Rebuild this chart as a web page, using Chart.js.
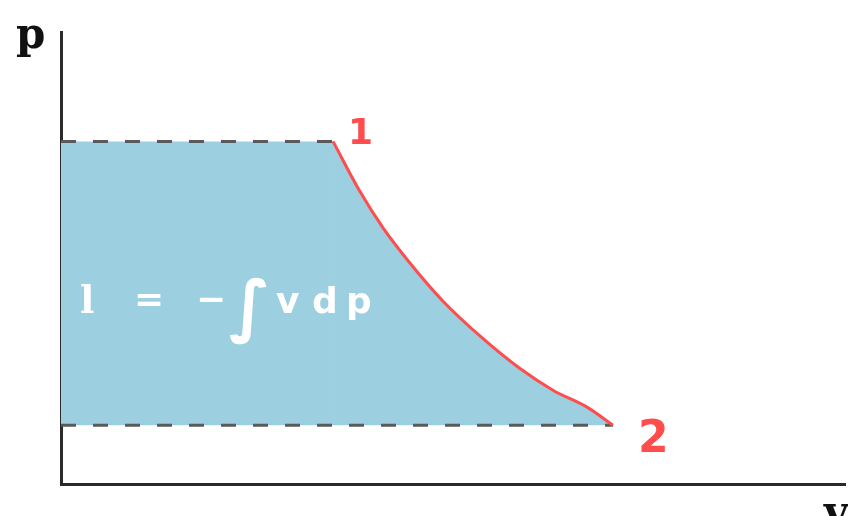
<!DOCTYPE html>
<html>
<head>
<meta charset="utf-8">
<script src="https://cdn.jsdelivr.net/npm/chart.js@4"></script>
<style>
  body { margin: 0; background: #fff; }
  #wrap { width: 848px; height: 516px; }
</style>
</head>
<body>
<div id="wrap"><canvas id="pv" width="848" height="516"></canvas></div>
<script>
// pressures of state 1 and 2
const p1 = 7.58;
const p2 = 1.30;

// expansion curve 1 -> 2 (v, p)
const curveV = [3.47, 3.81, 4.11, 4.45, 4.87, 5.38, 5.85, 6.28, 6.71, 7.04];
const curveP = [7.58, 6.48, 5.66, 4.89, 4.05, 3.22, 2.56, 2.07, 1.70, 1.30];

const curve = curveV.map((v, i) => ({ x: v, y: curveP[i] }));

const dashTop = [{ x: 0, y: p1 }, { x: curveV[0], y: p1 }];
const dashBottom = [{ x: 0, y: p2 }, { x: curveV[curveV.length - 1], y: p2 }];

const areaColor = "#9ccfe0";

/* LABELS */
const labelPlugin = {
  id: "labels",
  afterDatasetsDraw(chart) {
    const ctx = chart.ctx;
    const xs = chart.scales.x, ys = chart.scales.y;
    ctx.save();
    ctx.textBaseline = "alphabetic";
    ctx.textAlign = "left";

    // state points
    ctx.fillStyle = "#ff4d4d";
    ctx.font = "bold 36px 'DejaVu Sans'";
    ctx.fillText("1", xs.getPixelForValue(curveV[0]) + 15, ys.getPixelForValue(p1) + 3);
    ctx.font = "bold 44px 'DejaVu Sans'";
    ctx.fillText("2", xs.getPixelForValue(curveV[curveV.length - 1]) + 25, ys.getPixelForValue(p2) + 27);

    // axis names
    ctx.fillStyle = "#111";
    ctx.font = "bold 42px 'DejaVu Serif'";
    ctx.fillText("p", 16, 48);
    ctx.fillText("v", 824, 526);

    // formula
    ctx.fillStyle = "#ffffff";
    const base = 313;
    ctx.font = "bold 38px 'DejaVu Serif'";
    ctx.fillText("l", 80, base);
    ctx.font = "bold 36px 'DejaVu Sans'";
    ctx.fillText("=", 134, base - 2);
    ctx.fillText("−", 196, base - 2);
    ctx.font = "bold 68px 'DejaVu Sans'";
    ctx.fillText("∫", 229, base + 16);
    ctx.font = "bold 36px 'DejaVu Sans'";
    ctx.fillText("v", 276, base);
    ctx.fillText("d", 312, base);
    ctx.fillText("p", 346, base);
    ctx.restore();
  }
};

new Chart(document.getElementById("pv"), {
  type: "line",
  data: {
    datasets: [
      {
        // rectangle part of the area, left of state 1
        data: dashTop,
        borderWidth: 0,
        borderColor: "rgba(0,0,0,0)",
        backgroundColor: areaColor,
        fill: { value: p2 },
        pointRadius: 0,
        order: 3
      },
      {
        data: dashTop,
        borderColor: "#5a5a5a",
        borderWidth: 3,
        borderDash: [15, 17],
        pointRadius: 0,
        fill: false,
        order: 2
      },
      {
        data: dashBottom,
        borderColor: "#5a5a5a",
        borderWidth: 3,
        borderDash: [15, 17],
        pointRadius: 0,
        fill: false,
        order: 2
      },
      {
        data: curve,
        borderColor: "#ff4d4d",
        borderWidth: 3,
        backgroundColor: areaColor,
        pointRadius: 0,
        fill: { value: p2 },
        cubicInterpolationMode: "monotone",
        order: 1
      }
    ]
  },
  options: {
    responsive: false,
    animation: false,
    layout: { padding: { left: 61, right: 3, top: 32, bottom: 32 } },
    plugins: {
      legend: { display: false },
      tooltip: { enabled: false },
      filler: { drawTime: "beforeDatasetsDraw" }
    },
    scales: {
      x: {
        type: "linear", min: 0, max: 10,
        grid: { display: false, drawTicks: false },
        ticks: { display: false },
        border: { color: "#2a2a2a", width: 3 }
      },
      y: {
        type: "linear", min: 0, max: 10,
        grid: { display: false, drawTicks: false },
        ticks: { display: false },
        border: { color: "#2a2a2a", width: 3 }
      }
    }
  },
  plugins: [labelPlugin]
});
</script>
</body>
</html>
